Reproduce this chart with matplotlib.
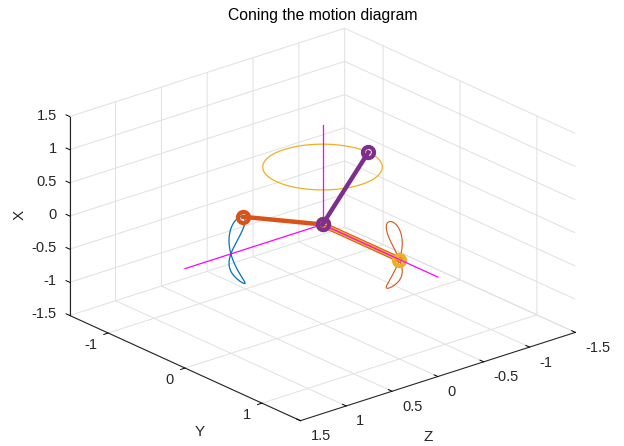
import numpy as np
import matplotlib.pyplot as plt
from mpl_toolkits.mplot3d import proj3d

plt.rcParams['font.family'] = ['Liberation Sans', 'DejaVu Sans']
plt.rcParams['axes.unicode_minus'] = False

# cone half-angle in degrees
cone_angle = 30
# body axes at the drawn instant, components given as (X, Y, Z)
body_x = [0.866, 0.0, -0.5]     # purple
body_y = [0.0, 1.0, 0.0]        # yellow
body_z = [0.5, 0.0, 0.866]      # orange
# length of the magenta reference axes
ref_len = 1.5

lim = [-1.5, 1.5]
vert_ticks = [-1.5, -1, -0.5, 0, 0.5, 1, 1.5]
vert_labels = ['-1.5', '-1', '-0.5', '0', '0.5', '1', '1.5']
y_ticks = [-1, 0, 1]
y_labels = ['-1', '0', '1']
z_ticks = [-1.5, -1, -0.5, 0, 0.5, 1, 1.5]
z_labels = ['-1.5', '-1', '-0.5', '0', '0.5', '1', '1.5']

blue = '#0072BD'
orange = '#D95319'
yellow = '#EDB120'
purple = '#7E2F8E'
magenta = '#FF00FF'
dark = '#262626'


def rot(n, a):
    # rotation matrix about unit vector n by angle a (Rodrigues)
    n = np.asarray(n, float)
    K = np.array([[0, -n[2], n[1]], [n[2], 0, -n[0]], [-n[1], n[0], 0]])
    return np.eye(3) + np.sin(a) * K + (1 - np.cos(a)) * K @ K


beta = np.deg2rad(cone_angle)
psi = np.linspace(0, 2 * np.pi, 361)
R0 = rot([0, 1, 0], beta)


def tip_path(v):
    # path traced by the tip of body vector v over one coning cycle
    v0 = R0.T @ np.asarray(v, float)
    pts = np.array([rot([0, np.cos(p), np.sin(p)], beta) @ v0 for p in psi])
    return pts[:, 0], pts[:, 1], pts[:, 2]


W, H = 624, 446
fig = plt.figure(figsize=(W / 100, H / 100), dpi=100)
ax = fig.add_axes([0.0072, -0.0168, 1.0, 1.0], projection='3d', computed_zorder=False)
ax.set_proj_type('ortho')

# matplotlib x <- Y, y <- Z, z <- X
def p3(X, Y, Z, **kw):
    ax.plot(Y, Z, X, **kw)

X, Y, Z = tip_path(body_z)
p3(X, Y, Z, color=blue, lw=0.9, zorder=2)
X, Y, Z = tip_path(body_y)
p3(X, Y, Z, color=orange, lw=0.8, zorder=2)
X, Y, Z = tip_path(body_x)
p3(X, Y, Z, color=yellow, lw=0.9, zorder=2)

# reference axes
p3([0, ref_len], [0, 0], [0, 0], color=magenta, lw=0.9, zorder=3)
p3([0, 0], [0, 0], [0, ref_len], color=magenta, lw=0.9, zorder=3)

# body axes
mk = dict(marker='o', ms=8, mfc='none', mew=3)
p3([0, body_z[0]], [0, body_z[1]], [0, body_z[2]], color=orange, lw=3.2, zorder=4, **mk)
p3([0, body_y[0]], [0, body_y[1]], [0, body_y[2]], color=orange, lw=4.2, zorder=4)
p3([0, body_y[0]], [0, body_y[1]], [0, body_y[2]], color=yellow, lw=2.8, zorder=5, **mk)
p3([0, 0], [0, ref_len], [0, 0], color=magenta, lw=0.9, zorder=6)
p3([0, body_x[0]], [0, body_x[1]], [0, body_x[2]], color=purple, lw=3.2, zorder=7, **mk)

ax.set_xlim(lim)
ax.set_ylim(lim[::-1])
ax.set_zlim(lim)
ax.set_xticks(y_ticks, [''] * len(y_ticks))
ax.set_yticks(z_ticks, [''] * len(z_ticks))
ax.set_zticks(vert_ticks, [''] * len(vert_ticks))
ax.set_box_aspect((1, 1, 0.6), zoom=1.2)
ax.view_init(elev=22.5, azim=-40)
ax.zaxis.set_ticks_position('upper')

for a in (ax.xaxis, ax.yaxis, ax.zaxis):
    a.set_pane_color((1, 1, 1, 1))
    a.pane.set_edgecolor((1, 1, 1, 0))
    a._axinfo['grid']['color'] = '#e0e0e0'
    a._axinfo['grid']['linewidth'] = 0.7
    a._axinfo['axisline']['color'] = dark
    a._axinfo['tick']['color'] = dark
    a._axinfo['tick']['inward_factor'] = 0.0
    a._axinfo['tick']['outward_factor'] = 0.2
    a._axinfo['tick']['linewidth'] = {True: 0.7, False: 0.5}
    a.line.set_color(dark)
    a.line.set_linewidth(0.8)
# the reversed Z range flips the tick sense on this axis
ax.xaxis._axinfo['tick']['inward_factor'] = 0.2
ax.xaxis._axinfo['tick']['outward_factor'] = 0.0

# tick labels placed next to the projected tick positions
fig.canvas.draw()
M = ax.get_proj()


def put_label(px, py, pz, text, dx, dy, ha):
    x2, y2, _ = proj3d.proj_transform(px, py, pz, M)
    sx, sy = ax.transData.transform((x2, y2))
    fig.text((sx + dx) / W, (sy - dy) / H, text, ha=ha, va='center',
             fontsize=10.5, color=dark)


for v, s in zip(y_ticks, y_labels):
    put_label(v, 1.5, -1.5, s, -11, 12, 'right')
for v, s in zip(z_ticks, z_labels):
    put_label(1.5, v, -1.5, s, 10, 15.5, 'left')
for v, s in zip(vert_ticks, vert_labels):
    put_label(-1.5, 1.5, v, s, -13, -1, 'right')

# axis titles
fig.text(20 / W, 1 - 215 / H, 'X', fontsize=11, color=dark, ha='center', va='center', rotation=90)
fig.text(200 / W, 1 - 432 / H, 'Y', fontsize=11, color=dark, ha='center', va='center')
fig.text(428 / W, 1 - 437 / H, 'Z', fontsize=11, color=dark, ha='center', va='center')
fig.text(0.518, 0.965, 'Coning the motion diagram', ha='center', va='center',
         fontsize=11.3, color='black')

fig.savefig('out.png', dpi=100)
